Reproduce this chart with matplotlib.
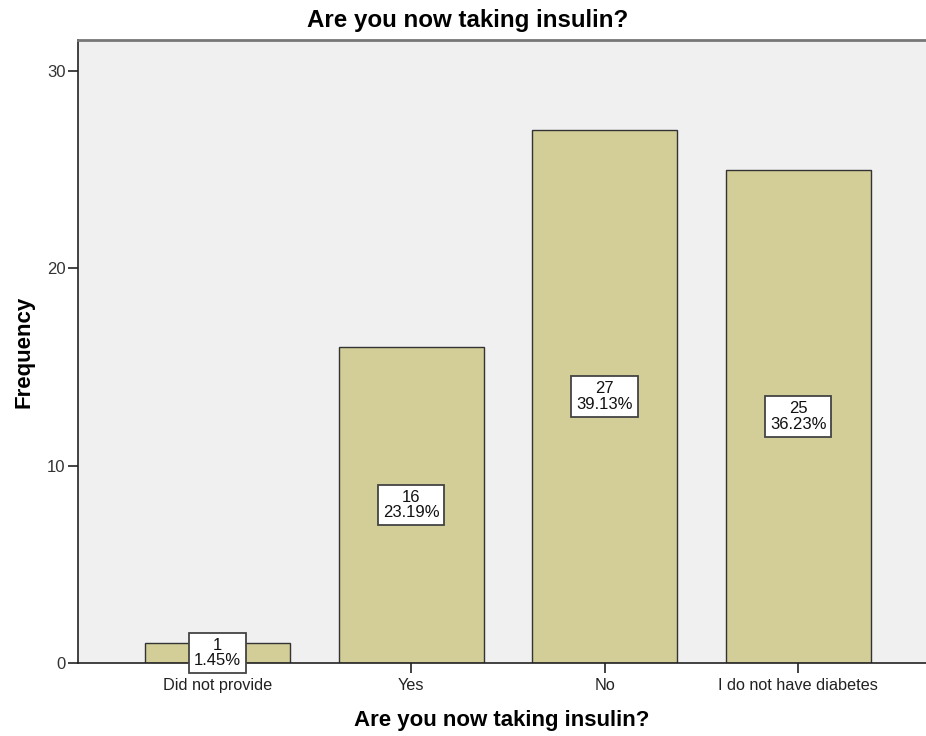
import numpy as np
from matplotlib import pyplot as plt

categories = ["Did not provide", "Yes", "No", "I do not have diabetes"]
counts = [1, 16, 27, 25]
percents = ["1.45%", "23.19%", "39.13%", "36.23%"]
yticks = [0, 10, 20, 30]

plt.rcParams["font.family"] = ["Liberation Sans", "DejaVu Sans"]

fig = plt.figure(figsize=(9.26, 7.36), dpi=100)
W, H = 926, 736
ax = fig.add_axes([78 / W, 1 - 663 / H, (926 - 78) / W, (663 - 40) / H])
ax.set_facecolor("#f0f0f0")

x = np.arange(len(categories))
ax.bar(x, counts, width=0.75, color="#d3ce98", edgecolor="#333333", linewidth=1.0, zorder=2)

for xi, c, p in zip(x, counts, percents):
    ax.text(xi, c / 2, f"{c}\n{p}", ha="center", va="center", fontsize=12,
            linespacing=1.05, color="#111111", zorder=3,
            bbox=dict(boxstyle="square,pad=0.3", facecolor="white",
                      edgecolor="#444444", linewidth=1.3))

ax.set_xlim(-0.721, 3.66)
ax.set_ylim(0, 31.57)
ax.set_xticks(x)
ax.set_xticklabels(categories, fontsize=11.7, color="#222222")
ax.set_yticks(yticks)
ax.set_yticklabels([str(t) for t in yticks], fontsize=12, color="#333333")
ax.tick_params(axis="both", direction="out", length=7, width=1.2, color="#222222", pad=2)
ax.tick_params(axis="x", pad=4)

ax.spines["left"].set_linewidth(1.2)
ax.spines["bottom"].set_linewidth(1.2)
ax.spines["left"].set_color("#222222")
ax.spines["bottom"].set_color("#222222")
ax.spines["top"].set_color("#777777")
ax.spines["top"].set_linewidth(2)
ax.spines["right"].set_visible(False)

ax.set_xlabel("Are you now taking insulin?", fontsize=16, fontweight="bold", labelpad=12)
ax.set_ylabel("Frequency", fontsize=16, fontweight="bold", labelpad=9)
fig.text(468 / W, 1 - 20 / H, "Are you now taking insulin?", ha="center", va="center",
         fontsize=17.4, fontweight="bold")

fig.savefig("out.png", dpi=100)
